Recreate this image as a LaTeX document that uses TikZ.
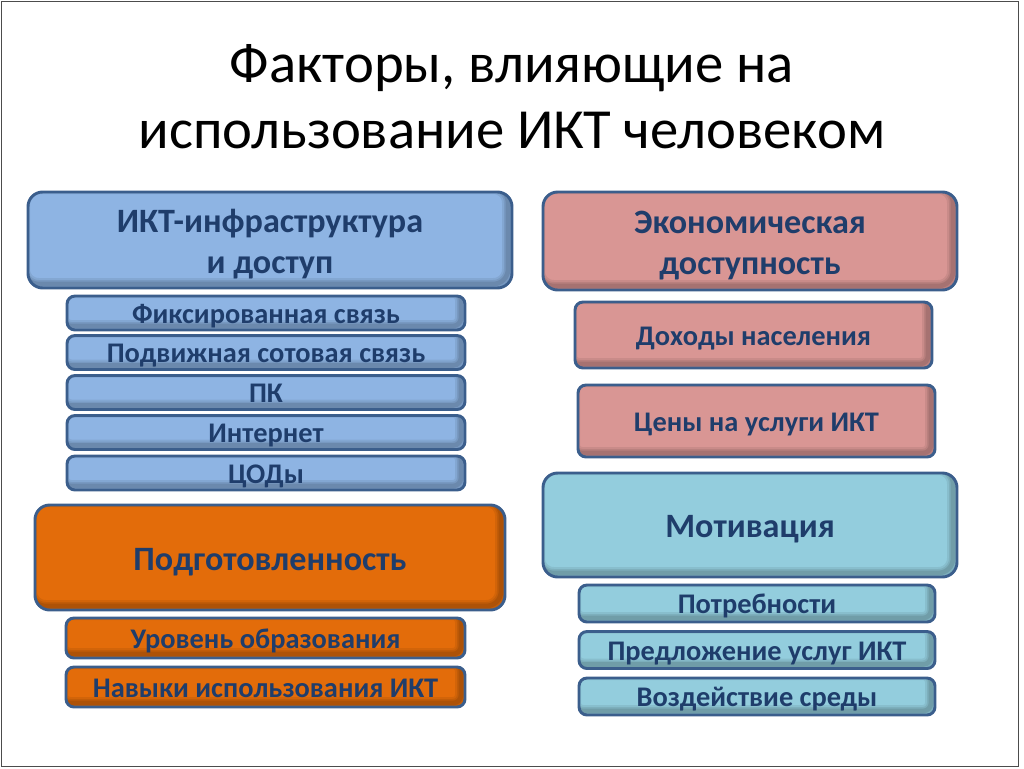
\documentclass[tikz,border=0pt]{standalone}
\usepackage{fontspec}
\setmainfont{Carlito}
\definecolor{bordc}{HTML}{3B5E8C}
\definecolor{txtc}{HTML}{1F3D6B}
\definecolor{blueF}{HTML}{8EB4E3}
\definecolor{pinkF}{HTML}{D99694}
\definecolor{orangeF}{HTML}{E36C0A}
\definecolor{cyanF}{HTML}{93CDDD}
\begin{document}
\begin{tikzpicture}[x=0.75pt,y=-0.75pt,
  shadowed/.style={path picture={
      \foreach \w/\o in {9pt/0.07,6pt/0.08,3.5pt/0.1}{
        \draw[black, opacity=\o, line width=\w, rounded corners=#1]
          ([xshift=-3pt,yshift=3pt]path picture bounding box.south west) rectangle
          ([xshift=-3pt,yshift=3pt]path picture bounding box.north east);
      }}},
  boxbase/.style={draw=bordc, line width=2.2pt, text=txtc, align=center, inner sep=0pt},
  bigbox/.style={boxbase, rounded corners=11pt, shadowed=11pt, font=\bfseries\fontsize{25.6}{31}\selectfont},
  bigone/.style={bigbox, text height=20.4pt, text depth=1pt},
  subbox/.style={boxbase, rounded corners=6pt, shadowed=6pt, font=\bfseries\fontsize{21.3}{25}\selectfont,
    text height=16pt, text depth=1pt},
]
\useasboundingbox (0,0) rectangle (1024,768);
\draw[gray!60!black, line width=0.75pt] (1,1) rectangle (1018,766);

\node[font=\fontsize{42.5}{49.5}\selectfont, align=center] (title) at (512,97)
  {Факторы, влияющие на\\использование ИКТ человеком};

% left column: blue
\node[bigbox, fill=blueF, minimum width=363pt, minimum height=72pt] (infra) at (270,240)
  {\rule{0pt}{24pt}ИКТ-инфраструктура\\и доступ};
\node[subbox, fill=blueF, minimum width=298.5pt, minimum height=25.5pt] (fix) at (266,313) {Фиксированная связь};
\node[subbox, fill=blueF, minimum width=298.5pt, minimum height=25.5pt] (mob) at (266,352.5) {Подвижная сотовая связь};
\node[subbox, fill=blueF, minimum width=298.5pt, minimum height=25.5pt] (pc) at (266,392.5) {ПК};
\node[subbox, fill=blueF, minimum width=298.5pt, minimum height=25.5pt] (inet) at (266,432.5) {Интернет};
\node[subbox, fill=blueF, minimum width=298.5pt, minimum height=25.5pt] (cod) at (266,473) {ЦОДы};

% left column: orange
\node[bigone, fill=orangeF, minimum width=352.5pt, minimum height=78.75pt] (prep) at (270,557.5) {Подготовленность};
\node[subbox, fill=orangeF, minimum width=299.25pt, minimum height=30pt] (edu) at (265.5,638) {Уровень образования};
\node[subbox, fill=orangeF, minimum width=299.25pt, minimum height=30pt] (skill) at (265.5,687) {Навыки использования ИКТ};

% right column: pink
\node[bigbox, fill=pinkF, minimum width=310.5pt, minimum height=73.5pt] (econ) at (750,241)
  {\rule{0pt}{24pt}Экономическая\\доступность};
\node[subbox, fill=pinkF, minimum width=267.75pt, minimum height=49.5pt] (income) at (753.5,335) {Доходы населения};
\node[subbox, fill=pinkF, minimum width=267.75pt, minimum height=54pt] (price) at (756.5,421) {Цены на услуги ИКТ};

% right column: cyan
\node[bigone, fill=cyanF, minimum width=310.5pt, minimum height=78pt] (motiv) at (750,525) {Мотивация};
\node[subbox, fill=cyanF, minimum width=267pt, minimum height=27.75pt] (need) at (757,603.5) {Потребности};
\node[subbox, fill=cyanF, minimum width=267pt, minimum height=27.75pt] (offer) at (757,650) {Предложение услуг ИКТ};
\node[subbox, fill=cyanF, minimum width=267pt, minimum height=27.75pt] (env) at (757,696.5) {Воздействие среды};
\end{tikzpicture}
\end{document}
